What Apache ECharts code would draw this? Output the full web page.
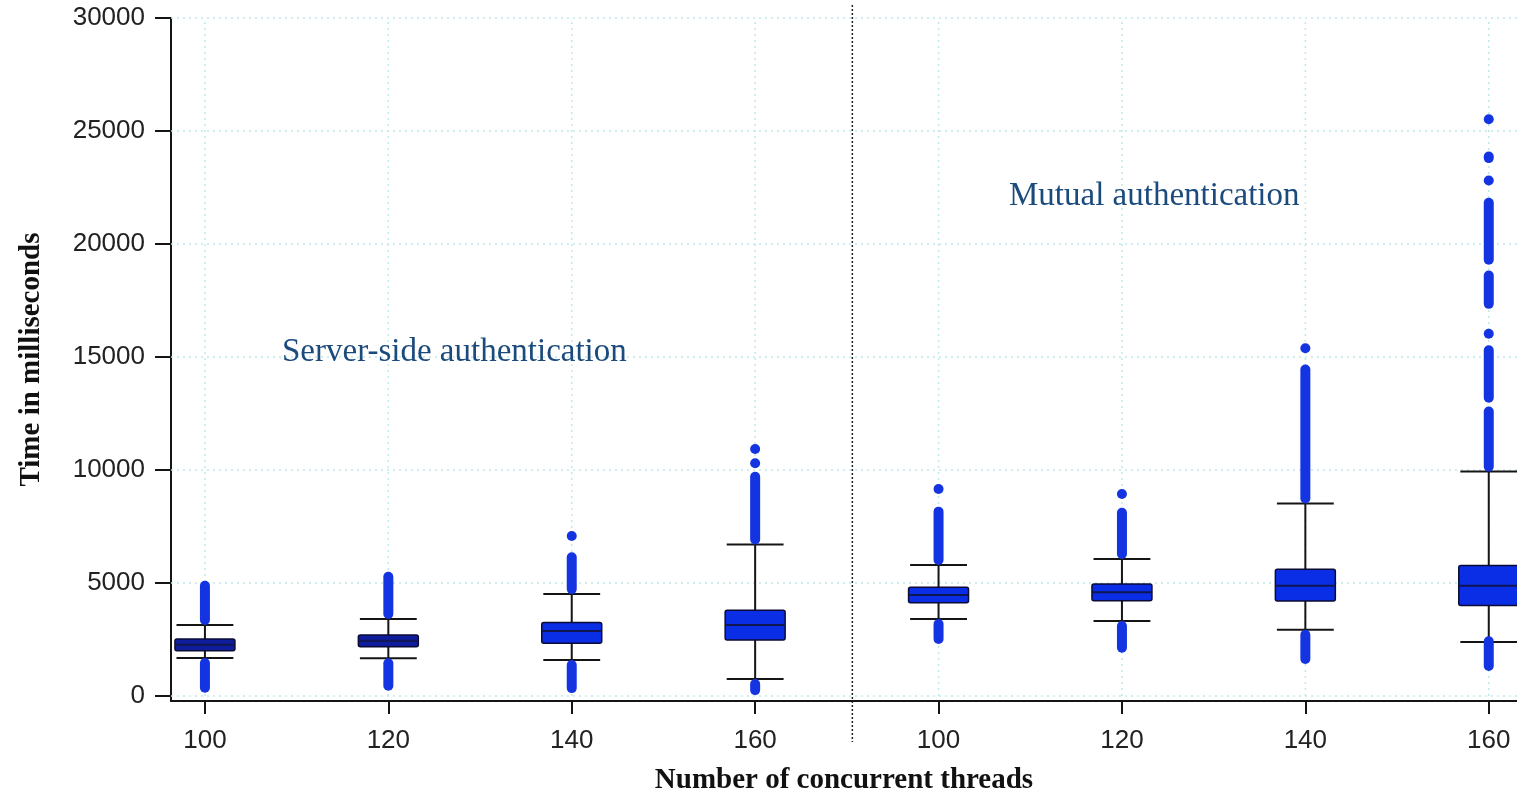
<!DOCTYPE html>
<html>
<head>
<meta charset="utf-8">
<script src="https://cdn.jsdelivr.net/npm/echarts/dist/echarts.min.js"></script>
<style>
html,body{margin:0;padding:0;background:#ffffff;}
#chart{width:1517px;height:795px;}
</style>
</head>
<body>
<div id="chart"></div>
<script>
// ---------------- data ----------------
const categories = ['100', '120', '140', '160', '100', '120', '140', '160'];
const positions = [1, 2, 3, 4, 5, 6, 7, 8];
const whiskerLow  = [1680, 1670, 1590,  750, 3410, 3320, 2930, 2390];
const quartile1   = [2000, 2180, 2330, 2480, 4130, 4220, 4200, 4000];
const medians     = [2270, 2450, 2880, 3140, 4470, 4590, 4880, 4880];
const quartile3   = [2520, 2700, 3250, 3800, 4810, 4960, 5610, 5770];
const whiskerHigh = [3140, 3410, 4510, 6710, 5800, 6060, 8520, 9930];
// dense columns of outliers: [position, from, to]
const outlierRuns = [
  [1, 3140, 5100], [1, 150, 1680],
  [2, 3410, 5500], [2, 230, 1670],
  [3, 4510, 6360], [3, 130, 1590],
  [4, 6710, 9920], [4, 40, 750],
  [5, 5800, 8380], [5, 2300, 3410],
  [6, 6060, 8330], [6, 1920, 3320],
  [7, 8520, 14670], [7, 1420, 2930],
  [8, 9930, 12810], [8, 12980, 15520], [8, 17130, 18830], [8, 19080, 22050],
  [8, 23580, 24090], [8, 1110, 2640]
];
// isolated outliers: [position, value]
const outlierPoints = [
  [3, 7080], [4, 10930], [4, 10300], [5, 9160], [6, 8940],
  [7, 15390], [8, 25520], [8, 22810], [8, 16030]
];
const yTicks = [0, 5000, 10000, 15000, 20000, 25000, 30000];
const separatorAt = 4.53;
const groupLabels = ['Server-side authentication', 'Mutual authentication'];

// ---------------- styles / layout ----------------
const NAVY = '#0f1c9c';
const BLUE = '#0a2ee6';
const OUTLIER = '#1434e2';
const GRID_COLOR = '#bfe9ea';
const BOX_WIDTH = 0.327;
const CAP_WIDTH = 0.31;
const X_MIN = 0.815, X_MAX = 8.154;
const Y_MIN = -220, Y_MAX = 30000;

const chart = echarts.init(document.getElementById('chart'));

function renderGrid(params, api) {
  // one item per gridline: [kind, value]  kind 0 = vertical, 1 = horizontal
  const kind = api.value(0), v = api.value(1);
  let a, b;
  if (kind === 0) {
    a = api.coord([v, yTicks[0]]);
    b = api.coord([v, yTicks[yTicks.length - 1]]);
  } else {
    a = api.coord([X_MIN, v]);
    b = api.coord([X_MAX, v]);
  }
  return {
    type: 'line', silent: true,
    shape: { x1: a[0], y1: a[1], x2: b[0], y2: b[1] },
    style: { stroke: GRID_COLOR, lineWidth: 1.5, lineDash: [2, 4] }
  };
}

function renderBox(params, api) {
  const x = api.value(0);
  const pLow = api.coord([x, api.value(1)]);
  const pQ1 = api.coord([x, api.value(2)]);
  const pMed = api.coord([x, api.value(3)]);
  const pQ3 = api.coord([x, api.value(4)]);
  const pHigh = api.coord([x, api.value(5)]);
  const bw = api.size([BOX_WIDTH, 0])[0];
  const cw = api.size([CAP_WIDTH, 0])[0];
  const fill = params.dataIndex < 2 ? NAVY : BLUE;
  const line = (x1, y1, x2, y2, w, c) => ({
    type: 'line', shape: { x1, y1, x2, y2 }, style: { stroke: c, lineWidth: w }
  });
  return {
    type: 'group',
    children: [
      line(pLow[0], pLow[1], pHigh[0], pHigh[1], 2, '#151515'),
      line(pLow[0] - cw / 2, pLow[1], pLow[0] + cw / 2, pLow[1], 2, '#151515'),
      line(pHigh[0] - cw / 2, pHigh[1], pHigh[0] + cw / 2, pHigh[1], 2, '#151515'),
      {
        type: 'rect',
        shape: { x: pQ3[0] - bw / 2, y: pQ3[1], width: bw, height: pQ1[1] - pQ3[1], r: 2 },
        style: { fill: fill, stroke: '#0b0b35', lineWidth: 1.5 }
      },
      line(pMed[0] - bw / 2, pMed[1], pMed[0] + bw / 2, pMed[1], 2, '#101650')
    ]
  };
}

function renderRun(params, api) {
  const x = api.value(0);
  const a = api.coord([x, api.value(2)]);
  const b = api.coord([x, api.value(1)]);
  const w = 10;
  return {
    type: 'rect',
    shape: { x: a[0] - w / 2, y: a[1], width: w, height: Math.max(b[1] - a[1], w), r: w / 2 },
    style: { fill: OUTLIER }
  };
}

const gridData = positions.map(p => [0, p]).concat(yTicks.map(t => [1, t]));

const option = {
  animation: false,
  backgroundColor: '#ffffff',
  grid: { left: 171, top: 18, right: 0, bottom: 94, containLabel: false, outerBoundsMode: 'none' },
  xAxis: {
    type: 'value',
    min: X_MIN,
    max: X_MAX,
    name: 'Number of concurrent threads',
    nameLocation: 'middle',
    nameGap: 65,
    nameTextStyle: { fontFamily: 'Liberation Serif', fontWeight: 'bold', fontSize: 29, color: '#111' },
    axisLine: { show: true, onZero: false, lineStyle: { color: '#151515', width: 2 } },
    axisTick: { show: true, customValues: positions, length: 13, lineStyle: { color: '#151515', width: 2 } },
    axisLabel: {
      customValues: positions,
      formatter: v => categories[Math.round(v) - 1],
      fontFamily: 'Liberation Sans', fontSize: 26, color: '#222', margin: 27
    },
    splitLine: { show: false }
  },
  yAxis: {
    type: 'value',
    min: Y_MIN, max: Y_MAX,
    name: 'Time in milliseconds',
    nameLocation: 'middle',
    nameGap: 125,
    nameTextStyle: { fontFamily: 'Liberation Serif', fontWeight: 'bold', fontSize: 29, color: '#111' },
    axisLine: { show: true, onZero: false, lineStyle: { color: '#151515', width: 2 } },
    axisTick: { show: true, customValues: yTicks, length: 16, lineStyle: { color: '#151515', width: 2 } },
    axisLabel: {
      customValues: yTicks,
      formatter: v => String(v),
      fontFamily: 'Liberation Sans', fontSize: 26, color: '#222', margin: 26
    },
    splitLine: { show: false }
  },
  series: [
    {
      type: 'custom',
      z: 1,
      silent: true,
      renderItem: renderGrid,
      encode: { x: -1, y: -1 },
      data: gridData
    },
    {
      type: 'custom',
      z: 3,
      renderItem: renderBox,
      encode: { x: 0, y: [1, 2, 3, 4, 5] },
      data: positions.map((p, i) => [p, whiskerLow[i], quartile1[i], medians[i], quartile3[i], whiskerHigh[i]])
    },
    {
      type: 'custom',
      z: 4,
      clip: false,
      renderItem: renderRun,
      encode: { x: 0, y: [1, 2] },
      data: outlierRuns
    },
    {
      type: 'scatter',
      z: 5,
      symbol: 'circle',
      symbolSize: 10,
      itemStyle: { color: OUTLIER, opacity: 1 },
      data: outlierPoints
    }
  ]
};
chart.setOption(option);

// decorations positioned through the axes
const sepX = chart.convertToPixel({ xAxisIndex: 0 }, separatorAt);
chart.setOption({
  graphic: [
    {
      type: 'line', silent: true, z: 10,
      shape: { x1: sepX, y1: 5, x2: sepX, y2: 742 },
      style: { stroke: '#222', lineWidth: 1.5, lineDash: [2, 2] }
    },
    {
      type: 'text', silent: true, z: 10,
      style: {
        x: 282, y: 352, text: groupLabels[0], verticalAlign: 'middle',
        font: '33px "Liberation Serif"', fill: '#1b4a7c'
      }
    },
    {
      type: 'text', silent: true, z: 10,
      style: {
        x: 1009, y: 196, text: groupLabels[1], verticalAlign: 'middle',
        font: '33px "Liberation Serif"', fill: '#1b4a7c'
      }
    }
  ]
});
</script>
</body>
</html>
